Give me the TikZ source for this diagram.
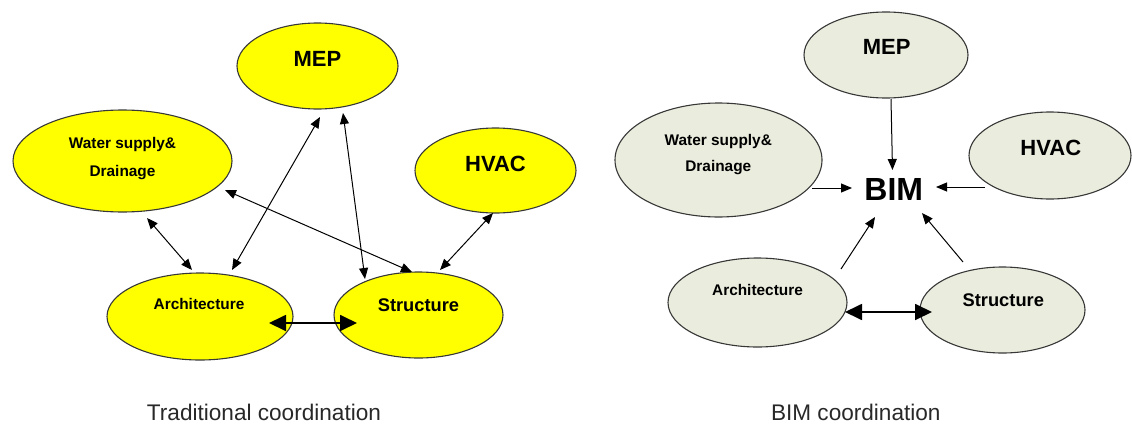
\documentclass[tikz,border=0pt]{standalone}
\usepackage{fontspec}
\setmainfont{Liberation Sans}
\usetikzlibrary{arrows.meta,shapes.geometric}
\definecolor{edgegray}{RGB}{55,55,55}
\definecolor{bimfill}{RGB}{234,237,221}
\definecolor{tradfill}{RGB}{255,255,0}
\definecolor{titlegray}{RGB}{40,40,40}
\begin{document}
\begin{tikzpicture}[x=1pt,y=-1pt,
  oval/.style={ellipse, draw=edgegray, line width=1.1pt, inner sep=0pt},
  trad/.style={oval, fill=tradfill},
  bim/.style={oval, fill=bimfill},
  small/.style={anchor=base, inner sep=0pt, font=\bfseries\fontsize{15.4}{18}\selectfont},
  mid/.style={anchor=base, inner sep=0pt, font=\bfseries\fontsize{18.3}{22}\selectfont},
  big/.style={anchor=base, inner sep=0pt, font=\bfseries\fontsize{22}{26}\selectfont},
  huge/.style={anchor=base, inner sep=0pt, font=\bfseries\fontsize{32}{36}\selectfont},
  caption/.style={anchor=base, inner sep=0pt, text=titlegray, font=\fontsize{22.6}{26}\selectfont},
  link/.style={draw=black, line width=1pt},
  tip/.tip={Triangle[length=11pt,width=9pt]},
  bigtip/.tip={Triangle[length=17pt,width=16pt]},
  twoway/.style={link, tip-tip},
  oneway/.style={link, -tip},
  strong/.style={draw=black, line width=1.8pt, bigtip-bigtip}
]
\useasboundingbox (0,0) rectangle (1132,423);

% ---------------- Traditional coordination ----------------
\node[trad, minimum width=161pt, minimum height=86pt] (mepL) at (317.5,66) {};
\node[trad, minimum width=219pt, minimum height=102pt] (watL) at (122.5,161) {};
\node[trad, minimum width=161pt, minimum height=85pt] (hvacL) at (495.5,170.5) {};
\node[trad, minimum width=186pt, minimum height=87pt] (archL) at (200,316.5) {};
\node[trad, minimum width=169pt, minimum height=86pt] (strL) at (418.5,315) {};

\node[big] (mepLt) at (317.5,66) {MEP};
\node[small] (watLt1) at (122.5,148) {Water supply\&};
\node[small] (watLt2) at (122.5,176) {Drainage};
\node[big] (hvacLt) at (495.5,171) {HVAC};
\node[small] (archLt) at (199,309) {Architecture};
\node[mid] (strLt) at (418.5,311) {Structure};
\node[caption] (capL) at (264,420) {Traditional coordination};

\coordinate (wa1) at (147,218);  \coordinate (wa2) at (192,270);
\coordinate (ma1) at (320,117);  \coordinate (ma2) at (232,270);
\coordinate (ms1) at (343,113);  \coordinate (ms2) at (365,279);
\coordinate (ws1) at (225,190);  \coordinate (ws2) at (412,272);
\coordinate (hs1) at (493,213);  \coordinate (hs2) at (440,270);
\coordinate (as1) at (269,323);  \coordinate (as2) at (357,323);

\draw[twoway] (wa1) -- (wa2);
\draw[twoway] (ma1) -- (ma2);
\draw[twoway] (ms1) -- (ms2);
\draw[twoway] (ws1) -- (ws2);
\draw[twoway] (hs1) -- (hs2);
\draw[strong] (as1) -- (as2);

% ---------------- BIM coordination ----------------
\node[bim, minimum width=164pt, minimum height=86pt] (mepR) at (886,55) {};
\node[bim, minimum width=207pt, minimum height=114pt] (watR) at (718.5,160) {};
\node[bim, minimum width=162pt, minimum height=87pt] (hvacR) at (1050,155.5) {};
\node[bim, minimum width=179pt, minimum height=89pt] (archR) at (757.5,302.5) {};
\node[bim, minimum width=165pt, minimum height=86pt] (strR) at (1002.5,310) {};

\node[big] (mepRt) at (886.7,54) {MEP};
\node[small] (watRt1) at (718.3,145) {Water supply\&};
\node[small] (watRt2) at (718.3,171) {Drainage};
\node[big] (hvacRt) at (1050.8,155) {HVAC};
\node[huge] (bim) at (893.8,200) {BIM};
\node[small] (archRt) at (757.5,295) {Architecture};
\node[mid] (strRt) at (1003.3,306) {Structure};
\node[caption] (capR) at (855.8,420) {BIM coordination};

\coordinate (mb1) at (891,99);   \coordinate (mb2) at (892.5,170);
\coordinate (wb1) at (812,188);  \coordinate (wb2) at (852,188);
\coordinate (hb1) at (985,187);  \coordinate (hb2) at (936,187);
\coordinate (ab1) at (841,269);  \coordinate (ab2) at (875,217);
\coordinate (sb1) at (963,262);  \coordinate (sb2) at (922,213);
\coordinate (ar1) at (845,312);  \coordinate (ar2) at (932,312);

\draw[oneway] (mb1) -- (mb2);
\draw[oneway] (wb1) -- (wb2);
\draw[oneway] (hb1) -- (hb2);
\draw[oneway] (ab1) -- (ab2);
\draw[oneway] (sb1) -- (sb2);
\draw[strong] (ar1) -- (ar2);
\end{tikzpicture}
\end{document}
